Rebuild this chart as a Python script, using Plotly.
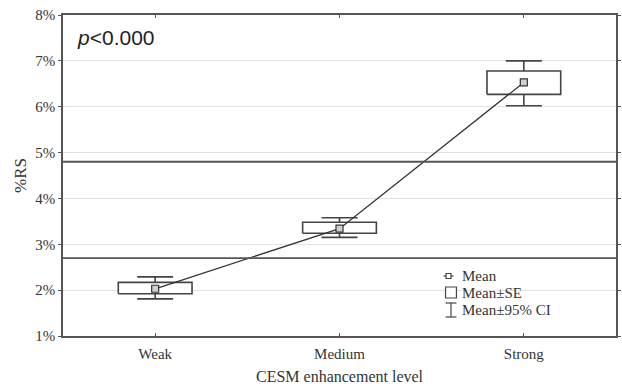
import plotly.graph_objects as go

# Categories and summary statistics (% RS)
categories = ["Weak", "Medium", "Strong"]
mean_vals = [2.03, 3.34, 6.53]
se_low = [1.92, 3.24, 6.27]
se_high = [2.17, 3.48, 6.78]
ci_low = [1.81, 3.15, 6.02]
ci_high = [2.29, 3.58, 7.00]
ref_lines = [4.8, 2.7]
y_ticks = [1, 2, 3, 4, 5, 6, 7, 8]
y_tick_text = [f"{v}%" for v in y_ticks]

W, H = 622, 386
L, R, T, B = 63, 1, 15, 50
PW, PH = W - L - R, H - T - B

def px_x(p):
    return (p - L) / PW

def px_y(p):
    return 1 - (p - T) / PH

EDGE = "#444444"
SERIF = "Liberation Serif, Times New Roman, serif"

xs = list(range(len(categories)))
fig = go.Figure()

# 95% CI whiskers
fig.add_trace(go.Scatter(
    x=xs, y=mean_vals, mode="markers",
    marker=dict(size=1, color="rgba(0,0,0,0)"),
    error_y=dict(type="data", symmetric=False,
                 array=[h - m for h, m in zip(ci_high, mean_vals)],
                 arrayminus=[m - l for m, l in zip(mean_vals, ci_low)],
                 width=18, thickness=1.6, color=EDGE),
    hoverinfo="skip", showlegend=False))

# Mean ± SE boxes
half = 0.2
for i, (lo, hi) in enumerate(zip(se_low, se_high)):
    fig.add_trace(go.Scatter(
        x=[i - half, i + half, i + half, i - half, i - half],
        y=[lo, lo, hi, hi, lo], mode="lines", fill="toself",
        fillcolor="white", line=dict(color=EDGE, width=1.6),
        hoverinfo="skip", showlegend=False))

# Means connected by a line
fig.add_trace(go.Scatter(
    x=xs, y=mean_vals, mode="lines+markers",
    line=dict(color="#333333", width=1.3),
    marker=dict(symbol="square", size=7, color="#d0d0d0",
                line=dict(color="#333333", width=1.2)),
    showlegend=False))

# Reference lines
for v in ref_lines:
    fig.add_shape(type="line", xref="paper", yref="y", x0=0, x1=1, y0=v, y1=v,
                  line=dict(color="#555555", width=1.8))

# Legend drawn by hand
shapes = [
    dict(type="line", x0=px_x(447), x1=px_x(457), y0=px_y(276), y1=px_y(276)),
    dict(type="rect", x0=px_x(449.5), x1=px_x(454.5), y0=px_y(273.5), y1=px_y(278.5)),
    dict(type="rect", x0=px_x(449), x1=px_x(460), y0=px_y(287), y1=px_y(298)),
    dict(type="line", x0=px_x(454.5), x1=px_x(454.5), y0=px_y(303), y1=px_y(317)),
    dict(type="line", x0=px_x(449), x1=px_x(460), y0=px_y(303), y1=px_y(303)),
    dict(type="line", x0=px_x(449), x1=px_x(460), y0=px_y(317), y1=px_y(317)),
]
for s in shapes:
    fig.add_shape(xref="paper", yref="paper", line=dict(color=EDGE, width=1.2),
                  fillcolor="white" if s["type"] == "rect" else None, **s)

for label, yc in [("Mean", 276), ("Mean±SE", 293), ("Mean±95% CI", 310)]:
    fig.add_annotation(x=px_x(464), y=px_y(yc), xref="paper", yref="paper",
                       text=label, showarrow=False, xanchor="left", yanchor="middle",
                       font=dict(family=SERIF, size=15, color="#333333"))

fig.add_annotation(x=px_x(75), y=px_y(37), xref="paper", yref="paper",
                   text="<i>p</i><0.000", showarrow=False, xanchor="left", yanchor="middle",
                   font=dict(family="Liberation Sans, Arial, sans-serif", size=21, color="#222222"))

fig.update_layout(
    width=W, height=H,
    margin=dict(l=L, r=R, t=T, b=B),
    paper_bgcolor="white", plot_bgcolor="white",
    font=dict(family=SERIF, size=15, color="#333333"),
    xaxis=dict(range=[-0.5, 2.5], tickvals=xs, ticktext=categories,
               showgrid=False, zeroline=False, showline=True, linecolor="#555555",
               linewidth=1.6, mirror="ticks", ticks="inside", ticklen=3,
               tickcolor="#555555", tickfont=dict(size=15), ticklabelstandoff=3,
               title=dict(text="CESM enhancement level", standoff=10,
                          font=dict(family=SERIF, size=16, color="#333333"))),
    yaxis=dict(range=[1, 8], tickvals=y_ticks, ticktext=y_tick_text,
               showgrid=True, gridcolor="#e2e2e2", gridwidth=1, zeroline=False,
               showline=True, linecolor="#555555", linewidth=1.6, mirror="ticks",
               ticks="outside", ticklen=3, tickcolor="#555555", tickfont=dict(size=15),
               title=dict(text="%RS", standoff=4,
                          font=dict(family=SERIF, size=17, color="#333333"))),
)

fig.write_html("out.html")
